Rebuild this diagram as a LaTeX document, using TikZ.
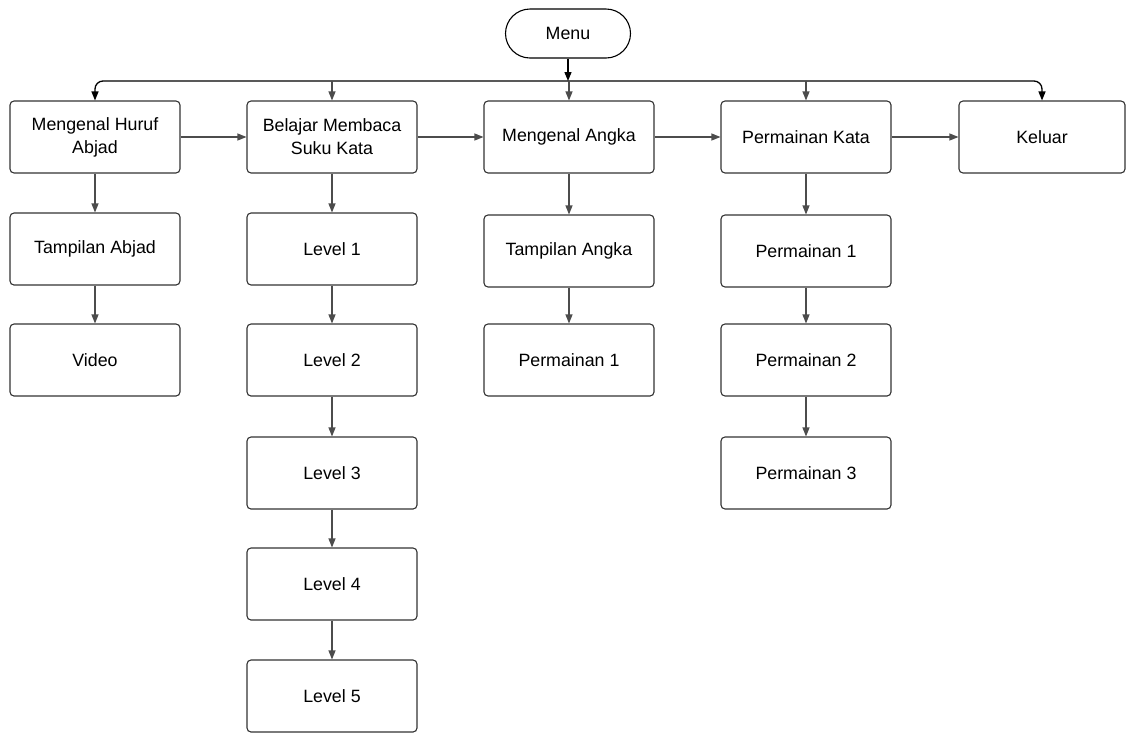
\documentclass[tikz,border=0pt]{standalone}
\usepackage{fontspec}
\setmainfont{Liberation Sans}
\usetikzlibrary{arrows.meta,shapes.misc}
\begin{document}
\begin{tikzpicture}[x=1pt,y=-1pt,
  box/.style={draw=black!80, line width=1.1pt, rounded corners=4pt, minimum width=170pt, minimum height=72pt, align=center, inner sep=0pt, font=\fontsize{17.8}{23}\selectfont},
  pill/.style={draw=black, line width=1.1pt, rounded rectangle, minimum width=125pt, minimum height=49pt, inner sep=0pt, font=\fontsize{17.8}{23}\selectfont},
  arr/.style={draw=black!70, line width=1.1pt, -{Triangle[length=9pt,width=7pt]}},
  busarr/.style={draw=black, line width=1.3pt, {Triangle[length=9pt,width=7pt]}-{Triangle[length=9pt,width=7pt]}, rounded corners=8pt}]
\useasboundingbox (0,0) rectangle (1127,732);
\node[pill] (menu) at (568,33.5) {Menu};
\coordinate (bus) at (0,81);
% top row
\node[box] (hm) at (95,137) {Mengenal Huruf\\Abjad};
\node[box] (bm) at (332,137) {Belajar Membaca\\Suku Kata};
\node[box] (ma) at (569,137) {Mengenal Angka};
\node[box] (pk) at (806,137) {Permainan Kata};
\node[box, minimum width=166pt] (kel) at (1042,137) {Keluar};
% column 1
\node[box] (ta) at (95,249) {Tampilan Abjad};
\node[box] (vid) at (95,360) {Video};
% column 2
\node[box] (l1) at (332,249) {Level 1};
\node[box] (l2) at (332,360) {Level 2};
\node[box] (l3) at (332,473) {Level 3};
\node[box] (l4) at (332,584) {Level 4};
\node[box] (l5) at (332,696) {Level 5};
% column 3
\node[box] (tan) at (569,251) {Tampilan Angka};
\node[box] (mp1) at (569,360) {Permainan 1};
% column 4
\node[box] (p1) at (806,251) {Permainan 1};
\node[box] (p2) at (806,360) {Permainan 2};
\node[box] (p3) at (806,473) {Permainan 3};
% bus
\draw[busarr] (hm.north) -- (hm.north |- bus) -- (kel.north |- bus) -- (kel.north);
\draw[arr, draw=black, line width=1.3pt] (menu.south) -- (menu.south |- bus);
\draw[arr] (bm.north |- bus) -- (bm.north);
\draw[arr] (ma.north |- bus) -- (ma.north);
\draw[arr] (pk.north |- bus) -- (pk.north);
% horizontal
\draw[arr] (hm) -- (bm);
\draw[arr] (bm) -- (ma);
\draw[arr] (ma) -- (pk);
\draw[arr] (pk) -- (kel);
% vertical
\draw[arr] (hm) -- (ta);
\draw[arr] (ta) -- (vid);
\draw[arr] (bm) -- (l1);
\draw[arr] (l1) -- (l2);
\draw[arr] (l2) -- (l3);
\draw[arr] (l3) -- (l4);
\draw[arr] (l4) -- (l5);
\draw[arr] (ma) -- (tan);
\draw[arr] (tan) -- (mp1);
\draw[arr] (pk) -- (p1);
\draw[arr] (p1) -- (p2);
\draw[arr] (p2) -- (p3);
\end{tikzpicture}
\end{document}
